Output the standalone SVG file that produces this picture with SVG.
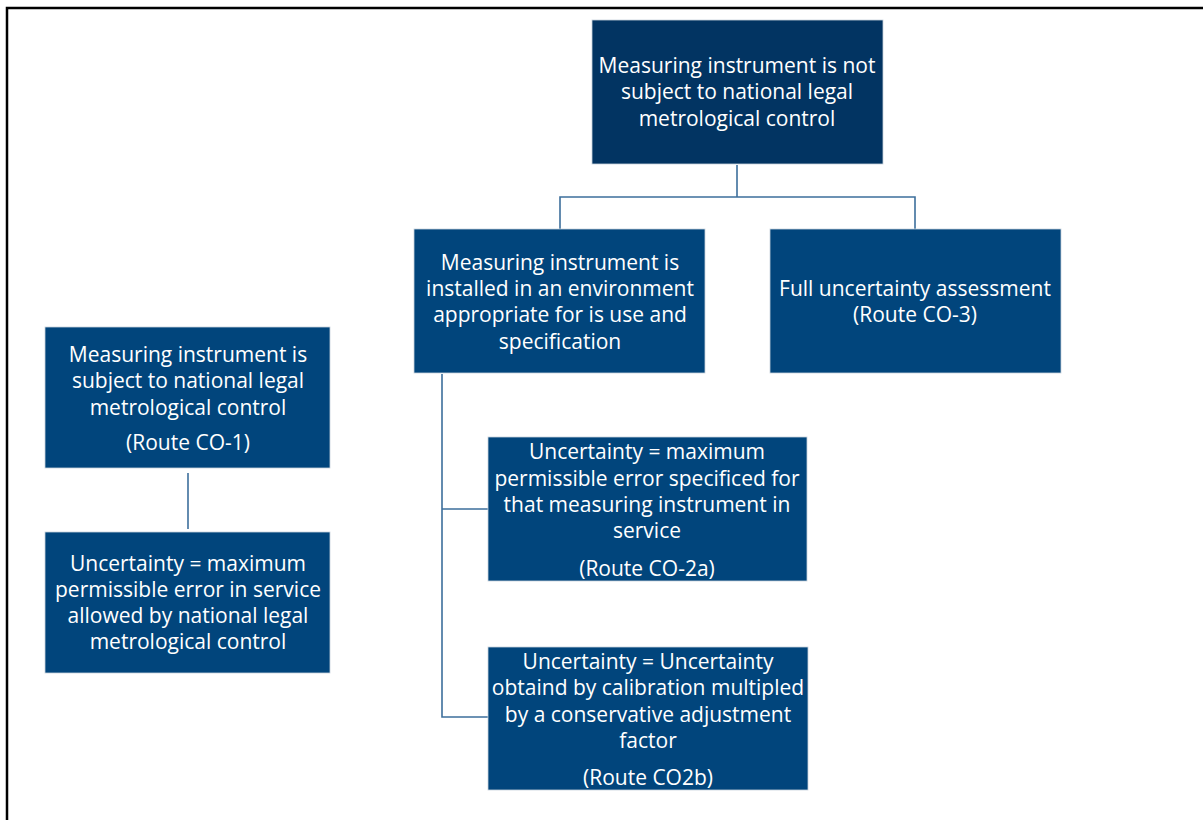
<svg xmlns="http://www.w3.org/2000/svg" width="1203" height="820" viewBox="0 0 1203 820">
<style>
.box{fill:#01457c;stroke:#c9d3dd;stroke-width:0.8}
.top{fill:#023462}
.t{font-family:"Open Sans","Liberation Sans",Arial,sans-serif;font-size:21px;fill:#fff;text-anchor:middle}
.c{fill:none;stroke:#3d6f9c;stroke-width:1.6}
</style>
<rect x="0" y="0" width="1203" height="820" fill="#fff"/>
<path d="M7 820 V8 H1203" fill="none" stroke="#000" stroke-width="2.5"/>
<g id="connectors">
<path class="c" d="M737 165 V197 M560 229 V197 H915 V229"/>
<path class="c" d="M442 374 V717 H488 M442 509 H488"/>
<path class="c" d="M188 473 V529"/>
</g>
<g id="n-top">
<rect class="box top" x="592" y="20" width="291" height="144"/>
<text class="t" x="737" y="73">Measuring instrument is not</text>
<text class="t" x="737" y="99">subject to national legal</text>
<text class="t" x="737" y="126">metrological control</text>
</g>
<g id="n-env">
<rect class="box" x="414" y="229" width="291" height="144"/>
<text class="t" x="560" y="270">Measuring instrument is</text>
<text class="t" x="560" y="296">installed in an environment</text>
<text class="t" x="560" y="322">appropriate for is use and</text>
<text class="t" x="560" y="349">specification</text>
</g>
<g id="n-co3">
<rect class="box" x="770" y="229" width="291" height="144"/>
<text class="t" x="915" y="296">Full uncertainty assessment</text>
<text class="t" x="915" y="322">(Route CO-3)</text>
</g>
<g id="n-co1">
<rect class="box" x="45" y="327" width="285" height="141"/>
<text class="t" x="188" y="362">Measuring instrument is</text>
<text class="t" x="188" y="388">subject to national legal</text>
<text class="t" x="188" y="415">metrological control</text>
<text class="t" x="188" y="450">(Route CO-1)</text>
</g>
<g id="n-mpe">
<rect class="box" x="45" y="532" width="285" height="141"/>
<text class="t" x="188" y="571">Uncertainty = maximum</text>
<text class="t" x="188" y="597">permissible error in service</text>
<text class="t" x="188" y="623">allowed by national legal</text>
<text class="t" x="188" y="649">metrological control</text>
</g>
<g id="n-co2a">
<rect class="box" x="488" y="437" width="319" height="144"/>
<text class="t" x="647" y="459">Uncertainty = maximum</text>
<text class="t" x="647" y="486">permissible error specificed for</text>
<text class="t" x="647" y="512">that measuring instrument in</text>
<text class="t" x="647" y="538">service</text>
<text class="t" x="647" y="576">(Route CO-2a)</text>
</g>
<g id="n-co2b">
<rect class="box" x="488" y="647" width="320" height="143"/>
<text class="t" x="648" y="669">Uncertainty = Uncertainty</text>
<text class="t" x="648" y="695">obtaind by calibration multipled</text>
<text class="t" x="648" y="722">by a conservative adjustment</text>
<text class="t" x="648" y="748">factor</text>
<text class="t" x="648" y="785">(Route CO2b)</text>
</g>
</svg>
